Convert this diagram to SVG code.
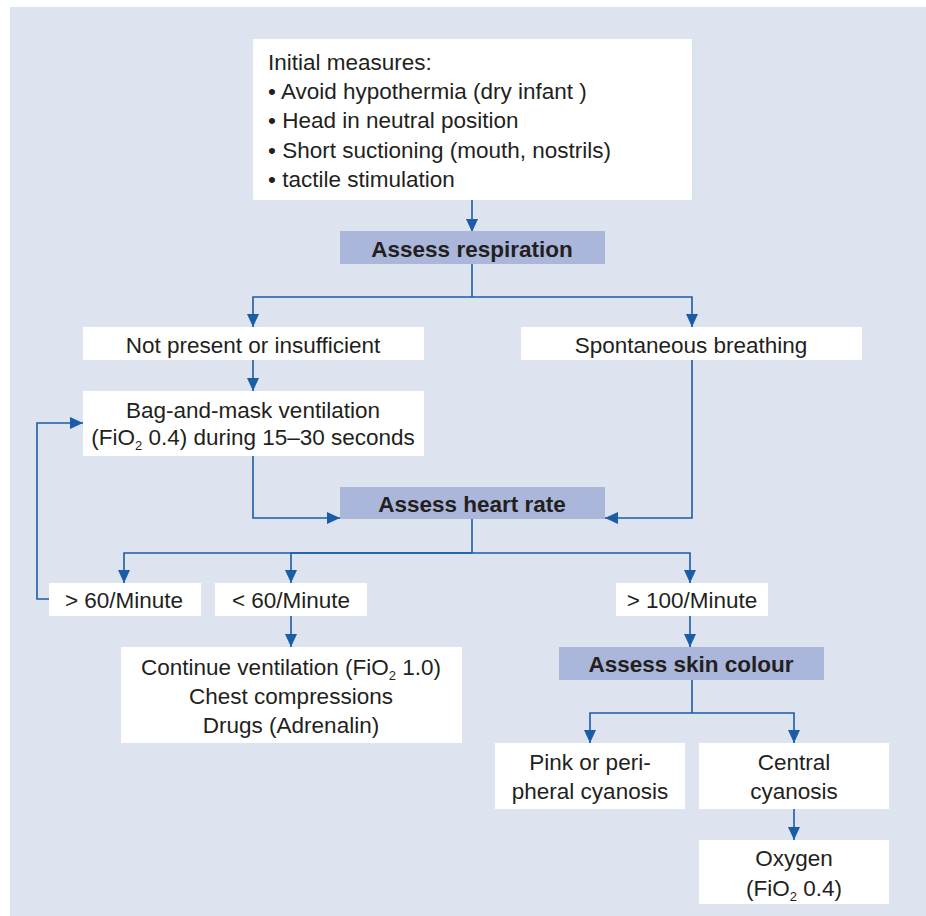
<svg xmlns="http://www.w3.org/2000/svg" width="926" height="916" viewBox="0 0 926 916">
<style>
.box{fill:#ffffff}
.head{fill:#aab6da}
text{font-family:"Liberation Sans",Arial,sans-serif;font-size:22.5px;fill:#231f20}
.b{font-weight:bold}
.c{text-anchor:middle}
.sub{font-size:13px}
.ln{fill:none;stroke:#1b5ca6;stroke-width:1.6;marker-end:url(#ah)}
.ln0{fill:none;stroke:#1b5ca6;stroke-width:1.6}
</style>
<defs>
<marker id="ah" markerUnits="userSpaceOnUse" markerWidth="14" markerHeight="14" refX="13" refY="6" orient="auto">
<path d="M0,0 L13,6 L0,12 z" fill="#1b5ca6"/>
</marker>
</defs>
<rect x="0" y="0" width="926" height="916" fill="#ffffff"/>
<rect x="10" y="7" width="916" height="909" fill="#dde3ef"/>

<g id="connectors">
<path class="ln" d="M472,200 V232"/>
<path class="ln0" d="M472,264 V297"/>
<path class="ln" d="M472,297 H253 V327"/>
<path class="ln" d="M472,297 H692 V327"/>
<path class="ln" d="M253,360 V391"/>
<path class="ln" d="M253,456 V518 H340"/>
<path class="ln" d="M692,360 V518 H605"/>
<path class="ln0" d="M472,519 V553"/>
<path class="ln" d="M472,553 H124 V583"/>
<path class="ln" d="M472,553 H291 V583"/>
<path class="ln" d="M472,553 H690 V583"/>
<path class="ln" d="M49,599 H37 V423 H83"/>
<path class="ln" d="M291,616 V647"/>
<path class="ln" d="M690,616 V647"/>
<path class="ln0" d="M692,680 V713"/>
<path class="ln" d="M692,713 H590 V743"/>
<path class="ln" d="M692,713 H794 V743"/>
<path class="ln" d="M794,809 V840"/>
</g>

<g id="initial">
<rect class="box" x="253" y="39" width="439" height="161"/>
<text x="268" y="70">Initial measures:</text>
<text x="268" y="99">• Avoid hypothermia (dry infant )</text>
<text x="268" y="128">• Head in neutral position</text>
<text x="268" y="158">• Short suctioning (mouth, nostrils)</text>
<text x="268" y="187">• tactile stimulation</text>
</g>

<g id="assess-resp">
<rect class="head" x="340" y="231" width="265" height="33"/>
<text class="b c" x="472" y="257">Assess respiration</text>
</g>

<g id="not-present">
<rect class="box" x="83" y="327" width="341" height="33"/>
<text class="c" x="253" y="353">Not present or insufficient</text>
</g>

<g id="spontaneous">
<rect class="box" x="521" y="327" width="341" height="33"/>
<text class="c" x="691" y="353">Spontaneous breathing</text>
</g>

<g id="bag-mask">
<rect class="box" x="83" y="391" width="341" height="65"/>
<text class="c" x="253" y="418">Bag-and-mask ventilation</text>
<text class="c" x="253" y="445">(FiO<tspan class="sub" dy="5">2</tspan><tspan dy="-5"> 0.4) during 15–30 seconds</tspan></text>
</g>

<g id="assess-heart">
<rect class="head" x="340" y="487" width="265" height="32"/>
<text class="b c" x="472" y="512">Assess heart rate</text>
</g>

<g id="gt60">
<rect class="box" x="49" y="583" width="152" height="33"/>
<text class="c" x="124" y="608">&gt; 60/Minute</text>
</g>

<g id="lt60">
<rect class="box" x="215" y="583" width="152" height="33"/>
<text class="c" x="291" y="608">&lt; 60/Minute</text>
</g>

<g id="gt100">
<rect class="box" x="616" y="583" width="152" height="33"/>
<text class="c" x="692" y="608">&gt; 100/Minute</text>
</g>

<g id="continue">
<rect class="box" x="121" y="647" width="341" height="96"/>
<text class="c" x="291" y="675">Continue ventilation (FiO<tspan class="sub" dy="5">2</tspan><tspan dy="-5"> 1.0)</tspan></text>
<text class="c" x="291" y="704">Chest compressions</text>
<text class="c" x="291" y="733">Drugs (Adrenalin)</text>
</g>

<g id="assess-skin">
<rect class="head" x="559" y="647" width="265" height="33"/>
<text class="b c" x="691" y="672">Assess skin colour</text>
</g>

<g id="pink">
<rect class="box" x="495" y="743" width="190" height="66"/>
<text class="c" x="590" y="770">Pink or peri-</text>
<text class="c" x="590" y="799">pheral cyanosis</text>
</g>

<g id="central">
<rect class="box" x="699" y="743" width="190" height="66"/>
<text class="c" x="794" y="770">Central</text>
<text class="c" x="794" y="799">cyanosis</text>
</g>

<g id="oxygen">
<rect class="box" x="699" y="840" width="190" height="64"/>
<text class="c" x="794" y="866">Oxygen</text>
<text class="c" x="794" y="896">(FiO<tspan class="sub" dy="5">2</tspan><tspan dy="-5"> 0.4)</tspan></text>
</g>
</svg>
